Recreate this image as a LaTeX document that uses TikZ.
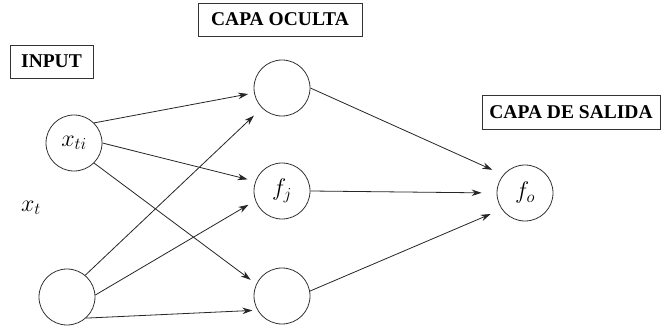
\RequirePackage{fix-cm}
\documentclass[tikz,border=0pt]{standalone}
\usepackage{fontspec}
\setmainfont{Liberation Serif}
\usetikzlibrary{arrows.meta}
\begin{document}
\begin{tikzpicture}[x=1pt,y=-1pt,
  neuron/.style={circle,draw=black!80,line width=0.8pt,minimum size=56pt,inner sep=0pt,
    font=\fontsize{24}{28}\selectfont},
  titlebox/.style={draw=black!80,line width=0.8pt,inner sep=0pt,
    font=\fontsize{19.5}{22}\selectfont\bfseries},
  conn/.style={line width=0.8pt,draw=black!85,-{Stealth[length=10pt,width=6.5pt]}}]
\useasboundingbox (0,0) rectangle (662,326);
\fill[white] (0,0) rectangle (662,326);
% titles
\node[titlebox,minimum width=164pt,minimum height=33pt] (tOc) at (280,19.5) {CAPA OCULTA};
\node[titlebox,minimum width=83pt,minimum height=33pt] (tIn) at (51.5,61.5) {INPUT};
\node[titlebox,minimum width=178pt,minimum height=34pt] (tSa) at (571,112) {CAPA DE SALIDA};
% neurons
\node[neuron] (i1) at (74,143) {$x_{ti}$};
\node[neuron] (i2) at (67,297) {};
\node[neuron] (h1) at (282,88) {};
\node[neuron] (h2) at (282,191) {$f_j$};
\node[neuron] (h3) at (282,296) {};
\node[neuron] (o) at (525,193) {$f_o$};
\node[font=\fontsize{24}{28}\selectfont] (xt) at (31,208) {$x_t$};
% connections input -> hidden
\draw[conn,shorten >=6pt] (i1.45) -- (h1.190);
\draw[conn,shorten >=8pt] (i1.0) -- (h2.160);
\draw[conn,shorten >=7pt] (i1.-45) -- (h3.155);
\draw[conn,shorten >=11pt] (i2.50) -- (h1.225);
\draw[conn,shorten >=8pt] (i2.4) -- (h2.200);
\draw[conn,shorten >=5pt] (i2.-48) -- (h3.210);
% hidden -> output
\draw[conn,shorten >=12pt] (h1.0) -- (o.140);
\draw[conn,shorten >=15pt] (h2.0) -- (o.180);
\draw[conn,shorten >=12pt] (h3.10) -- (o.215);
\end{tikzpicture}
\end{document}
